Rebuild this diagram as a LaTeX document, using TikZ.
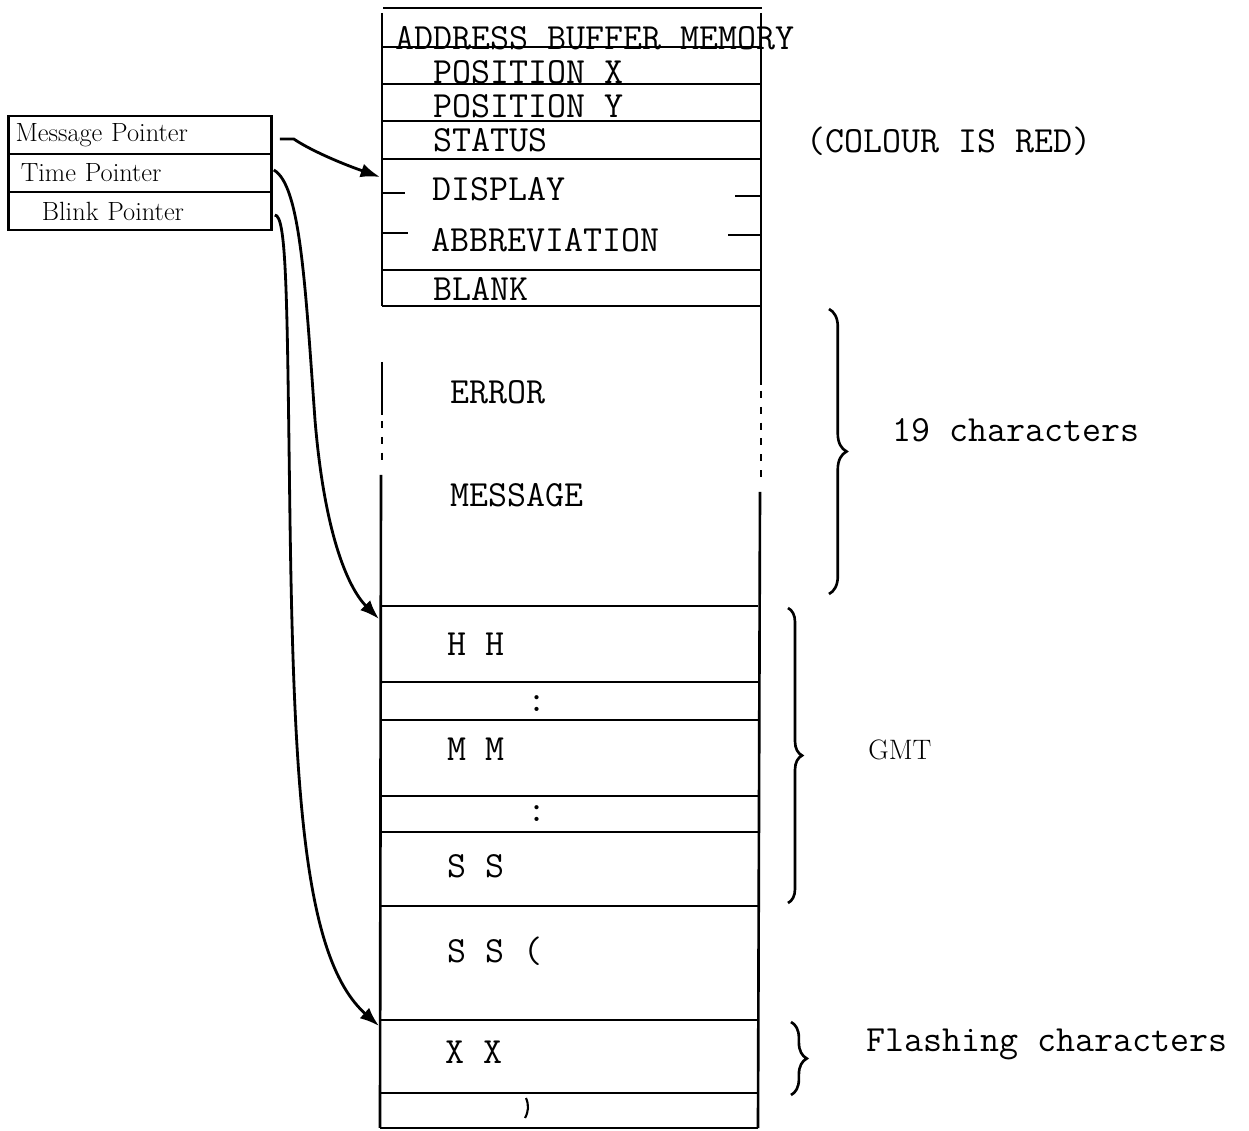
\documentclass[tikz,border=0pt]{standalone}
\usepackage{fontspec}
\usepackage{tikz}
\usetikzlibrary{positioning,arrows.meta,calc,decorations.pathreplacing}
\newcommand{\memfont}{\fontsize{21}{24}\selectfont\ttfamily}
\newcommand{\ptrfont}{\fontsize{15}{18}\selectfont\rmfamily}

\begin{document}
\begin{tikzpicture}[x=0.02cm, y=-0.02cm,
    cell/.style={line width=1.5pt},
    cellgap/.style={line width=1.5pt, dash pattern=on 4pt off 5pt},
    txt/.style={anchor=base west, inner sep=0pt, font=\memfont},
    ptr/.style={rectangle, draw, line width=1.5pt, minimum height=0.76cm, text width=4.98cm, inner xsep=0.14cm, align=left, font=\ptrfont},
    ptrarrow/.style={line width=1.6pt, -{Latex[length=11pt,width=8pt]}},
    brace/.style={decorate, line width=1.5pt}
]
\useasboundingbox (0,0) rectangle (1249,1131);

% pointer table
\node[ptr] (msgptr)   at (140,135) {Message Pointer};
\node[ptr] (timeptr)  at (140,173) {\hspace{3pt}Time Pointer};
\node[ptr] (blinkptr) at (140,211) {\hspace{15pt}Blink Pointer};

% memory column
\draw[cell] (383,8) -- (762,8);
\draw[cell] (382,13) -- (382,306);
\draw[cell] (761,13) -- (761,385);
\foreach \y in {47,84,121,159,270,306}
    \draw[cell] (382,\y) -- (761,\y);
\draw[cell] (382,193) -- (405,193);
\draw[cell] (735,196) -- (761,196);
\draw[cell] (382,233) -- (408,233);
\draw[cell] (728,235) -- (761,235);
\draw[cell] (382,362) -- (382,415);
\draw[cellgap] (382,421) -- (382,465);
\draw[cell] (381,475) -- (380,1128);
\draw[cellgap] (761,391) -- (761,480);
\draw[cell] (760,492) -- (758,1128);
\foreach \y in {606,682,720,796,832,906,1020,1093,1128}
    \draw[cell] (380,\y) -- (758,\y);
\draw[line width=1.2pt] (526,1098) to[bend left=25] (525,1118);

\coordinate (dispin) at (380,177);
\coordinate (hhin)   at (379,619);
\coordinate (xxin)   at (379,1026);

\node[txt] (abm)    at (395,50)  {ADDRESS BUFFER MEMORY};
\node[txt] (posx)   at (433,84)  {POSITION X};
\node[txt] (posy)   at (433,118) {POSITION Y};
\node[txt] (status) at (433,152) {STATUS};
\node[txt] (disp)   at (432,201) {DISPLAY};
\node[txt] (abbr)   at (431,252) {ABBREVIATION};
\node[txt] (blank)  at (433,301) {BLANK};
\node[txt] (err)    at (450,404) {ERROR};
\node[txt] (msg)    at (450,507) {MESSAGE};
\node[txt] (hh)     at (447,656) {H H};
\node[txt] (col1)   at (527,712) {:};
\node[txt] (mm)     at (447,761) {M M};
\node[txt] (col2)   at (527,822) {:};
\node[txt] (ss)     at (447,878) {S S};
\node[txt] (ssb)    at (447,963) {S S (};
\node[txt] (xx)     at (445,1064) {X X};

% notes on the right
\node[txt] (red) at (806,153) {(COLOUR IS RED)};
\draw[brace, decoration={brace, amplitude=10pt}] (829,309) -- (829,594);
\node[txt] (nchar) at (892,442) {19 characters};
\draw[brace, decoration={brace, amplitude=8pt}] (788,608) -- (788,903);
\node[anchor=base west, inner sep=0pt, font=\fontsize{16}{18}\selectfont\rmfamily] (gmt) at (868,760) {GMT};
\draw[brace, decoration={brace, amplitude=9pt}] (791,1022) -- (791,1095);
\node[txt] (flash) at (866,1052) {Flashing characters};

% pointers
\draw[ptrarrow] ($(msgptr.east)+(7,4)$) -- ++(14,0)
    .. controls (310,150) and (340,163) .. (dispin);
\draw[ptrarrow] ($(timeptr.east)+(1,-3)$) .. controls (300,185) and (305,280) .. (315,420)
    .. controls (325,540) and (350,590) .. (hhin);
\draw[ptrarrow] ($(blinkptr.east)+(2,4)$) .. controls (287,215) and (287,300) .. (290,520)
    .. controls (294,800) and (305,960) .. (xxin);
\end{tikzpicture}
\end{document}
